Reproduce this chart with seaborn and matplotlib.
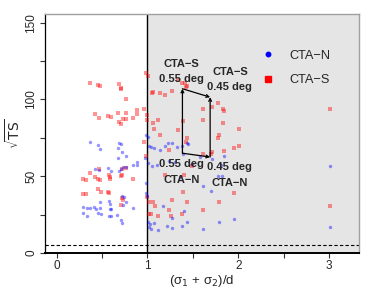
import matplotlib
matplotlib.use("Agg")
import matplotlib.pyplot as plt
from matplotlib.lines import Line2D
import pandas as pd
import seaborn as sns

# CTA-S (red squares): ratio (sigma1+sigma2)/d and sqrt(TS)
s_x = [0.37, 0.45, 0.48, 0.69, 0.71, 0.71, 0.76, 0.42, 0.47, 0.57, 0.60, 0.67,
       0.76, 0.69, 0.71, 0.73, 0.76, 0.84, 0.88, 0.88, 0.96, 0.47, 0.29, 0.32,
       0.37, 0.42, 0.45, 0.48, 0.58, 0.59, 0.59, 0.71, 0.72, 0.84, 0.46, 0.49,
       0.29, 0.32, 0.57, 0.58, 0.72, 0.73, 0.71, 0.72, 0.76,
       0.98, 1.01, 1.05, 1.065, 1.14, 1.19, 1.27, 1.34, 1.385, 1.41, 1.44, 1.42,
       1.0, 1.0, 1.065, 1.12, 1.07, 1.14, 1.34, 1.39, 1.43, 1.42, 0.96, 0.98,
       1.24, 1.61, 1.61, 1.71, 1.78, 1.83, 1.84, 1.83, 2.01, 1.79, 1.78, 2.01,
       1.955, 1.71, 1.70, 1.61, 1.84, 1.485, 1.19, 1.40, 1.0, 1.02, 1.065, 1.08,
       1.02, 1.04, 1.12, 1.27, 1.39, 1.44, 1.26, 1.38, 1.61, 1.79, 1.955, 1.24,
       3.01, 3.01]
s_ts = [110.5, 109.2, 108.7, 110.0, 107.2, 106.6, 100.5, 90.5, 88.1, 89.2, 88.5, 91.3,
        91.3, 85.5, 84.0, 87.0, 87.0, 88.1, 93.1, 90.5, 93.5, 54.4, 48.1, 47.6,
        52.2, 49.8, 47.9, 47.4, 51.1, 49.4, 48.1, 50.0, 51.1, 47.9, 41.7, 39.8,
        38.3, 38.3, 39.8, 39.2, 35.5, 34.6, 31.1, 55.0, 55.5,
        117.0, 115.0, 104.0, 104.6, 104.0, 103.0, 105.7, 112.7, 110.9, 110.5, 109.0, 108.3,
        89.6, 86.6, 84.4, 86.5, 81.1, 77.0, 80.2, 86.1, 74.6, 72.0, 72.6, 63.4,
        67.1, 93.9, 86.6, 95.2, 97.4, 93.9, 92.2, 84.8, 80.9, 76.8, 74.6, 69.6,
        68.3, 66.1, 64.4, 64.4, 66.7, 56.4, 50.5, 50.5, 36.5, 33.1, 33.1, 30.5,
        25.7, 25.2, 24.4, 34.8, 40.0, 33.1, 24.4, 25.2, 27.7, 32.9, 38.9, 27.9,
        93.9, 30.7]

# CTA-N (blue circles)
n_x = [0.37, 0.45, 0.48, 0.69, 0.71, 0.68, 0.72, 0.67, 0.76, 0.88, 0.84, 0.88,
       0.42, 0.47, 0.57, 0.60, 0.69, 0.71, 0.73, 0.76, 0.97, 0.29, 0.29, 0.33,
       0.33, 0.37, 0.415, 0.43, 0.48, 0.48, 0.485, 0.46, 0.58, 0.59, 0.59, 0.60,
       0.58, 0.595, 0.665, 0.71, 0.72, 0.73, 0.76, 0.845, 0.72, 0.74,
       0.98, 1.01, 1.02, 1.04, 1.07, 1.14, 1.19, 1.23, 1.27, 1.32, 1.38, 1.43,
       1.45, 1.01, 1.05, 1.11, 1.235, 1.30, 1.39, 1.49, 1.58, 1.71, 1.84, 1.81,
       0.985, 0.98, 1.0, 1.36, 1.61, 1.70, 1.78, 1.82, 1.17, 1.40, 1.27, 1.006,
       1.03, 1.07, 1.02, 1.04, 1.12, 1.22, 1.265, 1.38, 1.44, 1.61, 1.79, 1.95,
       3.01, 3.01]
n_ts = [72.0, 70.3, 67.8, 71.8, 70.7, 68.1, 65.7, 62.0, 63.1, 59.4, 57.6, 57.6,
        54.4, 54.1, 55.5, 53.5, 53.1, 55.0, 55.7, 55.9, 62.0, 29.8, 25.9, 29.0,
        24.1, 29.0, 29.8, 28.5, 32.9, 29.0, 25.4, 26.1, 33.7, 31.6, 28.5, 28.5,
        24.1, 24.1, 24.6, 21.5, 19.4, 31.1, 32.9, 29.0, 37.0, 36.5,
        76.9, 75.8, 69.9, 69.3, 68.6, 67.1, 69.9, 71.5, 71.5, 68.8, 69.9, 71.9,
        71.0, 58.4, 56.9, 57.3, 59.7, 59.0, 64.5, 57.7, 62.7, 61.3, 63.5, 57.3,
        45.3, 39.2, 37.3, 49.7, 43.7, 40.7, 50.3, 50.3, 30.3, 27.1, 23.0, 20.5,
        19.2, 19.6, 17.0, 15.5, 14.8, 17.4, 16.5, 17.5, 20.0, 15.5, 20.0, 22.3,
        56.9, 17.0]

# separation arrows (0.55 deg -> 0.45 deg)
arrow_x = [1.385, 1.69]
arrow_ts_s = [107.0, 101.5]
arrow_ts_n = [65.0, 62.5]
ts_threshold = 5

df_s = pd.DataFrame({"ratio": s_x, "sqrt_ts": s_ts})
df_n = pd.DataFrame({"ratio": n_x, "sqrt_ts": n_ts})

sns.set_style("white")
plt.rcParams["font.family"] = ["Liberation Sans", "DejaVu Sans"]
plt.rcParams["mathtext.fontset"] = "dejavusans"

fig = plt.figure(figsize=(3.74, 2.89), dpi=100)
ax = fig.add_axes([0.120, 0.1246, 0.840, 0.827])

ax.axvspan(1, 3.5, color="#e5e5e5", lw=0, zorder=0)
ax.axvline(1, color="black", lw=1, zorder=1)
ax.axhline(ts_threshold, color="black", lw=0.8, ls=(0, (3, 2)), zorder=1)

sns.scatterplot(data=df_s, x="ratio", y="sqrt_ts", ax=ax, color="red", marker="s",
                s=11, alpha=0.42, linewidth=0, zorder=2)
sns.scatterplot(data=df_n, x="ratio", y="sqrt_ts", ax=ax, color="blue", marker="o",
                s=6, alpha=0.42, linewidth=0, zorder=2)

aprops = dict(arrowstyle="->", color="black", lw=0.9, shrinkA=0, shrinkB=0,
              mutation_scale=5)
for xa, yn, ys in zip(arrow_x, arrow_ts_n, arrow_ts_s):
    ax.annotate("", xy=(xa, ys), xytext=(xa, yn), arrowprops=aprops, zorder=3)
ax.annotate("", xy=(arrow_x[1], arrow_ts_s[1]), xytext=(arrow_x[0], arrow_ts_s[0]),
            arrowprops=aprops, zorder=3)
ax.annotate("", xy=(arrow_x[1], arrow_ts_n[1]), xytext=(arrow_x[0], arrow_ts_n[0]),
            arrowprops=aprops, zorder=3)

tkw = dict(fontsize=8, fontweight="bold", ha="center", va="center", zorder=4)
ax.text(1.378, 123.1, "CTA−S", **tkw)
ax.text(1.378, 113.3, "0.55 deg", **tkw)
ax.text(1.91, 117.9, "CTA−S", **tkw)
ax.text(1.903, 108.1, "0.45 deg", **tkw)
ax.text(1.378, 57.9, "0.55 deg", **tkw)
ax.text(1.378, 47.4, "CTA−N", **tkw)
ax.text(1.903, 55.9, "0.45 deg", **tkw)
ax.text(1.91, 45.5, "CTA−N", **tkw)

ax.set_xlim(-0.13, 3.33)
ax.set_ylim(0, 155.7)
ax.set_xticks([0, 1, 2, 3])
ax.set_xticks([0.5, 1.5, 2.5], minor=True)
ax.set_yticks([0, 50, 100, 150])
ax.set_yticks([25, 75, 125], minor=True)
ax.tick_params(axis="both", which="both", direction="out", length=3.5, width=0.8,
               color="#333333", labelsize=8.5, bottom=True, left=True)
ax.tick_params(axis="x", pad=1.5)
ax.tick_params(axis="y", pad=2)
for lab in ax.get_yticklabels():
    lab.set_rotation(90)
    lab.set_va("center")

ax.set_xlabel("(σ$_1$ + σ$_2$)/d", fontsize=9.5, labelpad=0.5)
ax.set_ylabel(r"$\sqrt{\mathrm{TS}}$", fontsize=10, labelpad=1.5)

for side in ["top", "right"]:
    ax.spines[side].set_color("#a0a0a0")
    ax.spines[side].set_linewidth(1)
ax.spines["left"].set_color("black")
ax.spines["left"].set_linewidth(0.9)
ax.spines["bottom"].set_color("black")
ax.spines["bottom"].set_linewidth(1.4)

handles = [Line2D([], [], ls="", marker="o", color="blue", markersize=3.2),
           Line2D([], [], ls="", marker="s", color="red", markersize=4.2)]
ax.legend(handles, ["CTA−N", "CTA−S"], loc="upper left", bbox_to_anchor=(0.69, 0.85),
          frameon=False, fontsize=9.2, borderpad=0, borderaxespad=0,
          handlelength=1.0, handletextpad=1.14, labelspacing=0.95)

plt.savefig("out.png", dpi=100)
